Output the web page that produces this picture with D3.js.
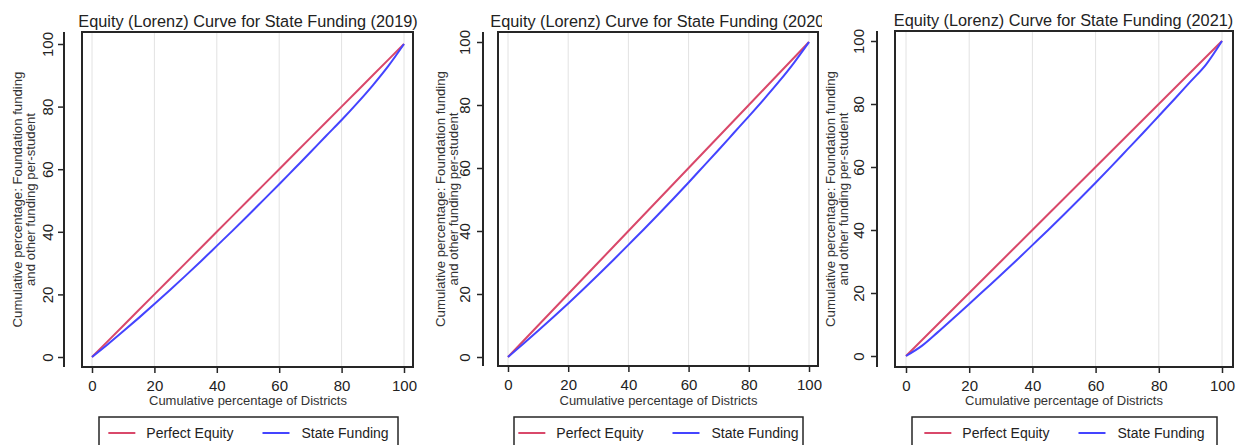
<!DOCTYPE html>
<html><head><meta charset="utf-8">
<script src="https://cdn.jsdelivr.net/npm/d3@7"></script>
<style>
html,body{margin:0;padding:0;background:#fff;}
svg{display:block;font-family:"Liberation Sans",Arial,Helvetica,sans-serif;}
</style></head>
<body>
<svg id="chart" width="1246" height="445"></svg>
<script>
// ---- data ----
const years = ["2019", "2020", "2021"];
const xTicks = [0, 20, 40, 60, 80, 100];
const yTicks = [0, 20, 40, 60, 80, 100];
const districtPct = [0,5,10,15,20,25,30,35,40,45,50,55,60,65,70,75,80,85,90,95,100];
const perfectEquity = [0,5,10,15,20,25,30,35,40,45,50,55,60,65,70,75,80,85,90,95,100];
const state2019 = [0,4.0,8.2,12.5,16.9,21.4,26.0,30.7,35.5,40.3,45.2,50.2,55.2,60.3,65.4,70.6,75.7,81.1,86.8,93.0,100];
const state2020 = [0,4.1,8.3,12.6,17.0,21.5,26.1,30.8,35.6,40.4,45.3,50.3,55.4,60.6,65.8,71.1,76.4,81.8,87.4,93.4,100];
const state2021 = [0,3.2,7.5,12.0,16.5,21.1,25.7,30.4,35.2,40.0,44.9,49.9,55.0,60.2,65.5,70.8,76.2,81.6,87.1,92.6,100];
const stateSeries = [state2019, state2020, state2021];
const titlePrefix = "Equity (Lorenz) Curve for State Funding";
const yTitleLines = ["Cumulative percentage: Foundation funding", "and other funding per-student"];
const xTitle = "Cumulative percentage of Districts";
const legendLabels = ["Perfect Equity", "State Funding"];

// ---- layout (per panel) ----
const panels = [
  {bg:[0,420], box:[82,32,413,367], xr:[92,404], yr:[357,44], axisX:64, tickLabX:47.5, yt1:17.5, yt2:30.5, titleX:248, titleY:27, legend:[99,398]},
  {bg:[420,402], box:[498,32,818,366], xr:[508,809], yr:[357,42], axisX:483, tickLabX:465, yt1:440, yt2:453, titleX:660, titleY:26.5, legend:[514,803]},
  {bg:[822,424], box:[895,31,1233,367], xr:[906,1222], yr:[356,41], axisX:877, tickLabX:859, yt1:830, yt2:843, titleX:1063.5, titleY:25.5, legend:[912,1217]}
];
const RED = "#d9486a", BLUE = "#4444ff", INK = "#262626", GRID = "#e2e2e2";

const svg = d3.select("#chart");

panels.forEach((p, i) => {
  const g = svg.append("g");
  const clipId = "clip" + i;
  svg.append("defs").append("clipPath").attr("id", clipId)
    .append("rect").attr("x", p.bg[0]).attr("y", 0).attr("width", p.bg[1]).attr("height", 445);
  g.attr("clip-path", `url(#${clipId})`);
  g.append("rect").attr("x", p.bg[0]).attr("y", 0).attr("width", p.bg[1]).attr("height", 445).attr("fill", "#fff");

  const x = d3.scaleLinear().domain([0, 100]).range(p.xr);
  const y = d3.scaleLinear().domain([0, 100]).range(p.yr);
  const [bx0, by0, bx1, by1] = p.box;

  // gridlines
  g.append("g").selectAll("line").data(xTicks).join("line")
    .attr("x1", d => x(d)).attr("x2", d => x(d)).attr("y1", by0).attr("y2", by1)
    .attr("stroke", GRID).attr("stroke-width", 1);

  // plot box
  g.append("rect").attr("x", bx0).attr("y", by0).attr("width", bx1 - bx0).attr("height", by1 - by0)
    .attr("fill", "none").attr("stroke", INK).attr("stroke-width", 2);

  // x axis (ticks hang from box bottom)
  const xa = g.append("g").attr("transform", `translate(0,${by1})`)
    .call(d3.axisBottom(x).tickValues(xTicks).tickSize(6).tickPadding(3).tickFormat(d3.format("d")));
  xa.select(".domain").remove();
  xa.selectAll(".tick line").attr("stroke", INK).attr("stroke-width", 1.5);
  xa.selectAll(".tick text").attr("font-size", 15).attr("fill", "#222").attr("font-family", null)
    .attr("dy", null).attr("y", 24);

  // y axis (offset line)
  const ya = g.append("g").attr("transform", `translate(${p.axisX},0)`)
    .call(d3.axisLeft(y).tickValues(yTicks).tickSize(6).tickFormat(d3.format("d")));
  ya.select(".domain").remove();
  ya.append("line").attr("x1", 0).attr("x2", 0).attr("y1", by0).attr("y2", by1)
    .attr("stroke", INK).attr("stroke-width", 2);
  ya.selectAll(".tick line").attr("stroke", INK).attr("stroke-width", 1.5);
  ya.selectAll(".tick text").remove();
  ya.selectAll(".tick").append("text")
    .attr("transform", `translate(${p.tickLabX - p.axisX},0) rotate(-90)`)
    .attr("text-anchor", "middle").attr("dy", "0.36em")
    .attr("font-size", 15).attr("fill", "#222")
    .text(d => d3.format("d")(d));

  // y title
  const yc = (by0 + by1) / 2;
  [p.yt1, p.yt2].forEach((xx, k) => {
    g.append("text").attr("transform", `translate(${xx},${yc}) rotate(-90)`)
      .attr("text-anchor", "middle").attr("dy", "0.35em")
      .attr("font-size", 13.2).attr("fill", "#333").text(yTitleLines[k]);
  });

  // title
  g.append("text").attr("x", p.titleX).attr("y", p.titleY).attr("text-anchor", "middle")
    .attr("font-size", 16.3).attr("fill", "#222").text(`${titlePrefix} (${years[i]})`);

  // x title
  g.append("text").attr("x", (p.xr[0] + p.xr[1]) / 2).attr("y", 405).attr("text-anchor", "middle")
    .attr("font-size", 13).attr("fill", "#333").text(xTitle);

  // lines
  const line = d3.line().x(d => x(d[0])).y(d => y(d[1]));
  g.append("path").datum(districtPct.map((d, j) => [d, perfectEquity[j]]))
    .attr("d", line).attr("fill", "none").attr("stroke", RED).attr("stroke-width", 2);
  g.append("path").datum(districtPct.map((d, j) => [d, stateSeries[i][j]]))
    .attr("d", d3.line().x(d => x(d[0])).y(d => y(d[1])).curve(d3.curveMonotoneX))
    .attr("fill", "none").attr("stroke", BLUE).attr("stroke-width", 2);

  // legend
  const [lx0, lx1] = p.legend;
  g.append("rect").attr("x", lx0).attr("y", 417).attr("width", lx1 - lx0).attr("height", 40)
    .attr("fill", "#fff").attr("stroke", INK).attr("stroke-width", 1.5);
  const lg = g.append("g");
  const t1 = lg.append("text").attr("font-size", 14).attr("fill", "#222").text(legendLabels[0]);
  const t2 = lg.append("text").attr("font-size", 14).attr("fill", "#222").text(legendLabels[1]);
  const w1 = t1.node().getComputedTextLength(), w2 = t2.node().getComputedTextLength();
  const total = 27 + 11 + w1 + 29 + 27 + 12 + w2;
  let cx = (lx0 + lx1) / 2 - total / 2;
  const ly = 433;
  lg.append("line").attr("x1", cx).attr("x2", cx + 27).attr("y1", ly).attr("y2", ly).attr("stroke", RED).attr("stroke-width", 2);
  t1.attr("x", cx + 38).attr("y", ly + 5);
  cx += 38 + w1 + 29;
  lg.append("line").attr("x1", cx).attr("x2", cx + 27).attr("y1", ly).attr("y2", ly).attr("stroke", BLUE).attr("stroke-width", 2);
  t2.attr("x", cx + 39).attr("y", ly + 5);
});
</script>
</body></html>
